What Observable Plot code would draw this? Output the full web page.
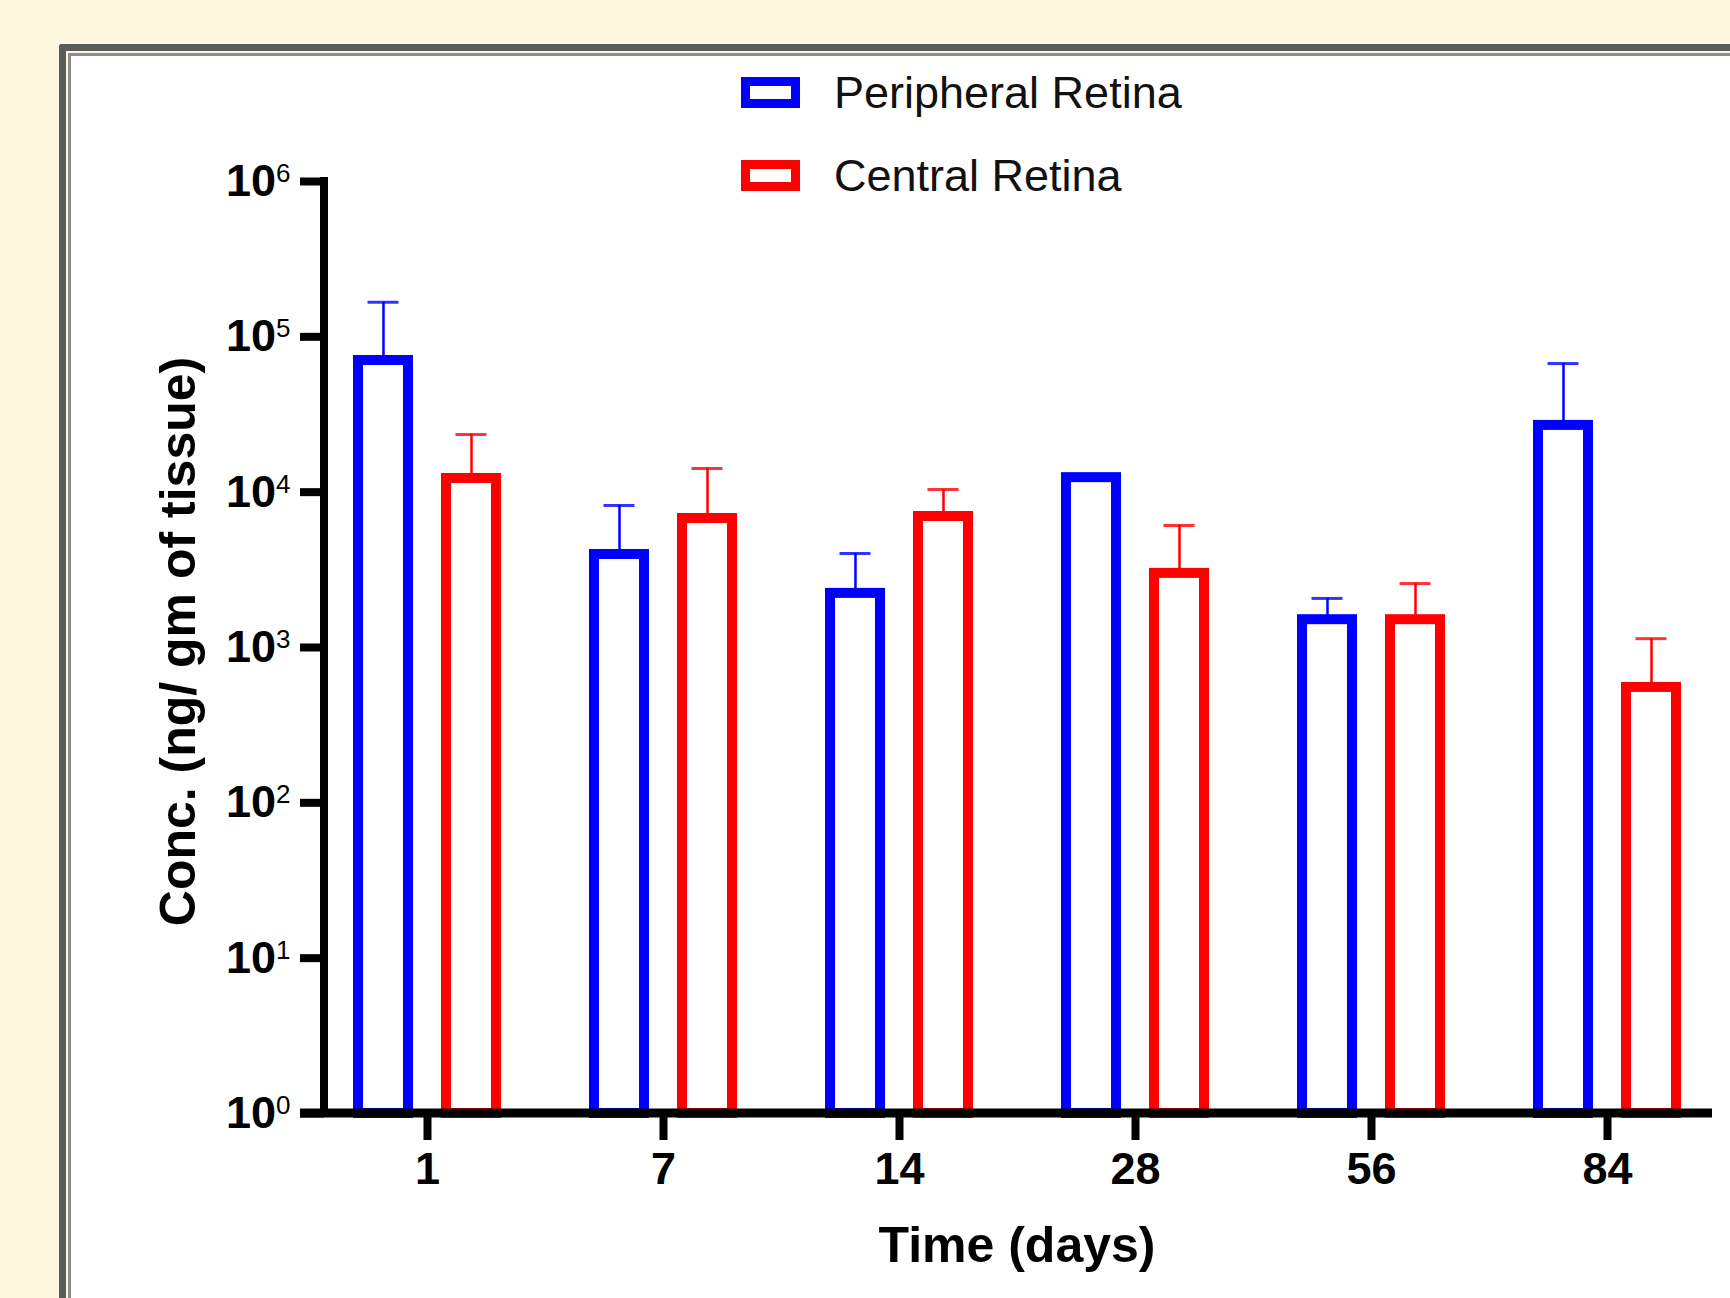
<!DOCTYPE html>
<html><head><meta charset="utf-8">
<script src="https://cdn.jsdelivr.net/npm/d3@7"></script>
<script src="https://cdn.jsdelivr.net/npm/@observablehq/plot@0.6"></script>
<style>
html,body{margin:0;padding:0;width:1730px;height:1298px;overflow:hidden;background:#FFF8E1;font-family:"Liberation Sans",Arial,sans-serif;}
#frame{position:absolute;left:59px;top:44px;width:1720px;height:1300px;border-top:7px solid #5b5b5b;border-left:7px solid #5b5b5b;border-top-left-radius:3px;background:#FFF8E1;}
#inner{position:absolute;left:1.5px;top:1.5px;right:0;bottom:0;border-top:3px solid #8c8c8c;border-left:3px solid #8c8c8c;background:#fff;}
#chart{position:absolute;left:0;top:0;}
.sw{position:absolute;box-sizing:border-box;width:59px;height:31px;border:9px solid;background:#fff;}
.lt{position:absolute;font-size:45px;line-height:45px;color:#111;white-space:nowrap;}
</style></head>
<body>
<div id="frame"><div id="inner"></div></div>
<div id="chart"></div>
<div id="legend"></div>
<script>
// ---- data ----
const days = ["1", "7", "14", "28", "56", "84"];
const series = ["Peripheral Retina", "Central Retina"];
const colors = ["#0000FF", "#FF0000"];
const peripheral = [70400, 3970, 2230, 12400, 1510, 26900];
const peripheralUpper = [167000, 8210, 4030, null, 2070, 67300];
const central = [12250, 6770, 6970, 3000, 1510, 553];
const centralUpper = [23500, 14200, 10400, 6100, 2580, 1140];
const yTicks = [1, 10, 100, 1000, 10000, 100000, 1000000];
const yTickExponents = ["0", "1", "2", "3", "4", "5", "6"];
const xTitle = "Time (days)";
const yTitle = "Conc. (ng/ gm of tissue)";

// ---- layout / style ----
const W = 1730, H = 1298;
const M = {top: 181, right: 21, bottom: 185, left: 324};
const yTickSize = 24, xTickSize = 27;
const offset = 44;        // half distance between the two bars of a group
const barInset = 49;      // band 148 -> rect 50 wide (+10 stroke = 60)
const capInset = 58.5;    // cap 31 wide

const rows = [peripheral, central].map((vals, s) =>
  days.map((day, i) => ({
    day, series: series[s], value: vals[i],
    upper: (s === 0 ? peripheralUpper : centralUpper)[i]
  }))
);

const sup = "⁰¹²³⁴⁵⁶⁷⁸⁹";
const marks = [];
rows.forEach((data, s) => {
  const dx = s === 0 ? -offset : offset;
  const withErr = data.filter(d => d.upper != null);
  marks.push(
    Plot.barY(data, {x: "day", y1: 1, y2: "value", dx, insetLeft: barInset, insetRight: barInset,
      fill: "white", stroke: colors[s], strokeWidth: 10}),
    Plot.ruleX(withErr, {x: "day", y1: "value", y2: "upper", dx, stroke: colors[s], strokeWidth: 2.5}),
    Plot.tickY(withErr, {x: "day", y: "upper", dx, insetLeft: capInset, insetRight: capInset,
      stroke: colors[s], strokeWidth: 3, strokeOpacity: 0.8})
  );
});

const chart = Plot.plot({
  width: W, height: H,
  marginTop: M.top, marginRight: M.right, marginBottom: M.bottom, marginLeft: M.left,
  style: {background: "transparent", color: "black", fontFamily: "Liberation Sans, Arial, sans-serif"},
  x: {type: "band", domain: days, paddingInner: 0.3734, paddingOuter: 0.1187},
  y: {type: "log", domain: [1, 1e6]},
  marks: [
    ...marks,
    Plot.axisX({tickSize: xTickSize, tickPadding: 12, strokeWidth: 8, fontSize: 45, fontWeight: "bold", label: null}),
    Plot.axisY({ticks: yTicks, tickSize: yTickSize, tickPadding: 10, strokeWidth: 8, fontSize: 45, fontWeight: "bold",
      label: null, tickFormat: d => "10" + sup[yTickExponents[yTicks.indexOf(d)]]}),
    Plot.text([xTitle], {frameAnchor: "bottom", dy: 148, fontSize: 50, fontWeight: "bold"}),
    Plot.text([yTitle], {frameAnchor: "left", textAnchor: "middle", rotate: -90, dx: -146, dy: -6, fontSize: 50, fontWeight: "bold"})
  ]
});

// axis lines drawn with the plot's own y scale
const svg = d3.select(chart);
const ys = chart.scale("y");
const yBottom = ys.apply(1), yTop = ys.apply(1e6);
svg.append("line").attr("x1", M.left).attr("x2", M.left)
  .attr("y1", yTop).attr("y2", yBottom).attr("stroke", "black").attr("stroke-width", 8).attr("stroke-linecap", "square");
svg.append("line").attr("x1", M.left - yTickSize).attr("x2", W - M.right + 3)
  .attr("y1", yBottom).attr("y2", yBottom).attr("stroke", "black").attr("stroke-width", 9);

// superscript exponents on y tick labels
svg.selectAll('g[aria-label^="y-axis tick label"] text').each(function () {
  const t = d3.select(this);
  const s = t.text();
  const e = String(sup.indexOf(s.slice(2)));
  t.text("10");
  t.append("tspan").attr("font-size", 26).attr("font-weight", "normal").attr("dy", -14).text(e);
});

document.getElementById("chart").appendChild(chart);

// legend
const leg = document.getElementById("legend");
const legTops = [77, 160];
series.forEach((name, s) => {
  const sw = document.createElement("div");
  sw.className = "sw";
  sw.style.left = "741px"; sw.style.top = legTops[s] + "px"; sw.style.borderColor = colors[s];
  const lt = document.createElement("div");
  lt.className = "lt";
  lt.style.left = "834px"; lt.style.top = (legTops[s] - 7) + "px";
  lt.textContent = name;
  leg.appendChild(sw); leg.appendChild(lt);
});
</script>
</body></html>
